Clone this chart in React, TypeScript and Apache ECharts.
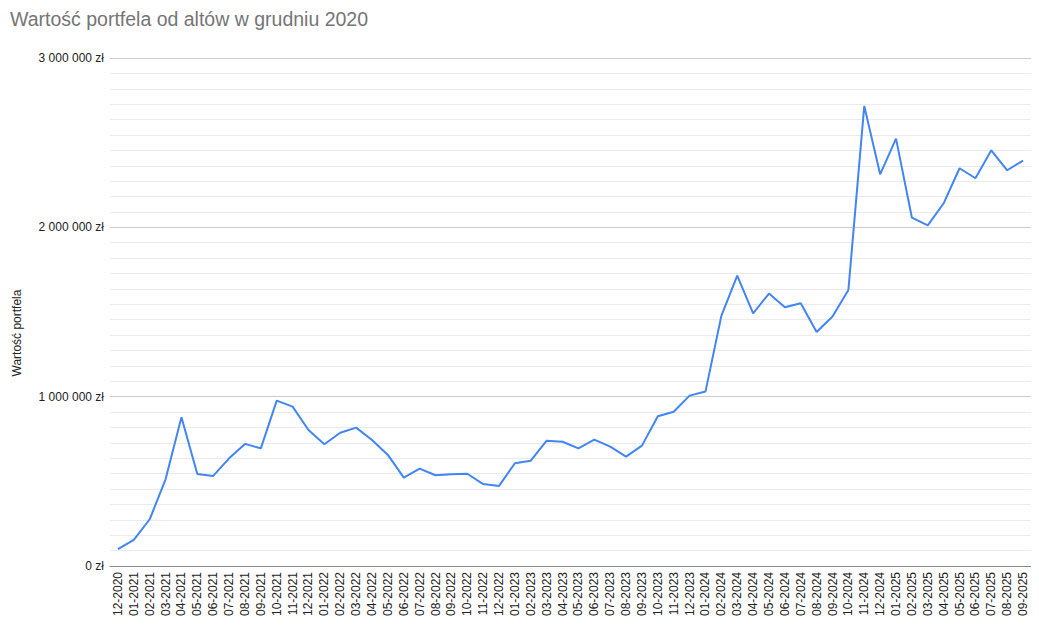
import React, { useEffect, useRef } from "react";
import * as echarts from "echarts";

const categories: string[] = [
  "12-2020",
  "01-2021", "02-2021", "03-2021", "04-2021", "05-2021", "06-2021",
  "07-2021", "08-2021", "09-2021", "10-2021", "11-2021", "12-2021",
  "01-2022", "02-2022", "03-2022", "04-2022", "05-2022", "06-2022",
  "07-2022", "08-2022", "09-2022", "10-2022", "11-2022", "12-2022",
  "01-2023", "02-2023", "03-2023", "04-2023", "05-2023", "06-2023",
  "07-2023", "08-2023", "09-2023", "10-2023", "11-2023", "12-2023",
  "01-2024", "02-2024", "03-2024", "04-2024", "05-2024", "06-2024",
  "07-2024", "08-2024", "09-2024", "10-2024", "11-2024", "12-2024",
  "01-2025", "02-2025", "03-2025", "04-2025", "05-2025", "06-2025",
  "07-2025", "08-2025", "09-2025",
];

const portfolioValues: number[] = [
  99000,
  154000, 276000, 512000, 878000, 543000, 532000,
  636000, 721000, 695000, 977000, 941000, 803000,
  719000, 787000, 817000, 744000, 656000, 522000,
  575000, 536000, 542000, 545000, 484000, 473000,
  607000, 622000, 740000, 734000, 695000, 746000,
  705000, 646000, 711000, 884000, 911000, 1006000,
  1030000, 1477000, 1715000, 1492000, 1609000, 1528000,
  1552000, 1382000, 1473000, 1630000, 2717000, 2313000,
  2524000, 2057000, 2012000, 2142000, 2349000, 2290000,
  2455000, 2337000, 2394000,
];

const titleText = "Wartość portfela od altów w grudniu 2020";
const yAxisName = "Wartość portfela";

const FONT = "'Liberation Sans', Arial, Helvetica, sans-serif";

function formatZl(v: number): string {
  return String(Math.round(v)).replace(/\B(?=(\d{3})+(?!\d))/g, " ") + " zł";
}

export default function App() {
  const ref = useRef<HTMLDivElement>(null);

  useEffect(() => {
    if (!ref.current) return;
    const chart = echarts.init(ref.current, undefined, { renderer: "svg" });
    chart.setOption({
      animation: false,
      backgroundColor: "#ffffff",
      textStyle: { fontFamily: FONT },
      title: {
        text: titleText,
        left: 2,
        top: 1,
        padding: 0,
        textStyle: {
          fontFamily: FONT,
          fontSize: 19.5,
          fontWeight: "normal",
          color: "#757575",
        },
      },
      graphic: [
        {
          type: "text",
          x: 9,
          y: 325,
          rotation: Math.PI / 2,
          style: {
            text: yAxisName,
            fontFamily: FONT,
            fontSize: 12,
            fill: "#222222",
            align: "center",
            verticalAlign: "middle",
          },
        },
      ],
      grid: { left: 102, right: 0, top: 50, bottom: 54 },
      xAxis: {
        type: "category",
        data: categories,
        boundaryGap: true,
        axisLine: { show: true, lineStyle: { color: "#888888", width: 1 } },
        axisTick: { show: false },
        axisLabel: {
          interval: 0,
          rotate: 90,
          margin: 6,
          fontSize: 12,
          color: "#222222",
          fontFamily: FONT,
        },
        splitLine: { show: false },
      },
      yAxis: {
        type: "value",
        min: 0,
        max: 3000000,
        interval: 1000000,
        axisLine: { show: false },
        axisTick: { show: false },
        axisLabel: {
          margin: 6,
          fontSize: 12,
          color: "#222222",
          fontFamily: FONT,
          formatter: (v: number) => formatZl(v),
        },
        splitLine: { show: true, lineStyle: { color: "#cccccc", width: 1 } },
        minorTick: { show: false, splitNumber: 11 },
        minorSplitLine: { show: true, lineStyle: { color: "#ebebeb", width: 1 } },
      },
      series: [
        {
          type: "line",
          name: yAxisName,
          data: portfolioValues,
          showSymbol: false,
          symbol: "none",
          lineStyle: { color: "#4285F4", width: 2 },
          itemStyle: { color: "#4285F4" },
        },
      ],
    });
    return () => chart.dispose();
  }, []);

  return <div ref={ref} style={{ width: 1023, height: 612 }} />;
}
